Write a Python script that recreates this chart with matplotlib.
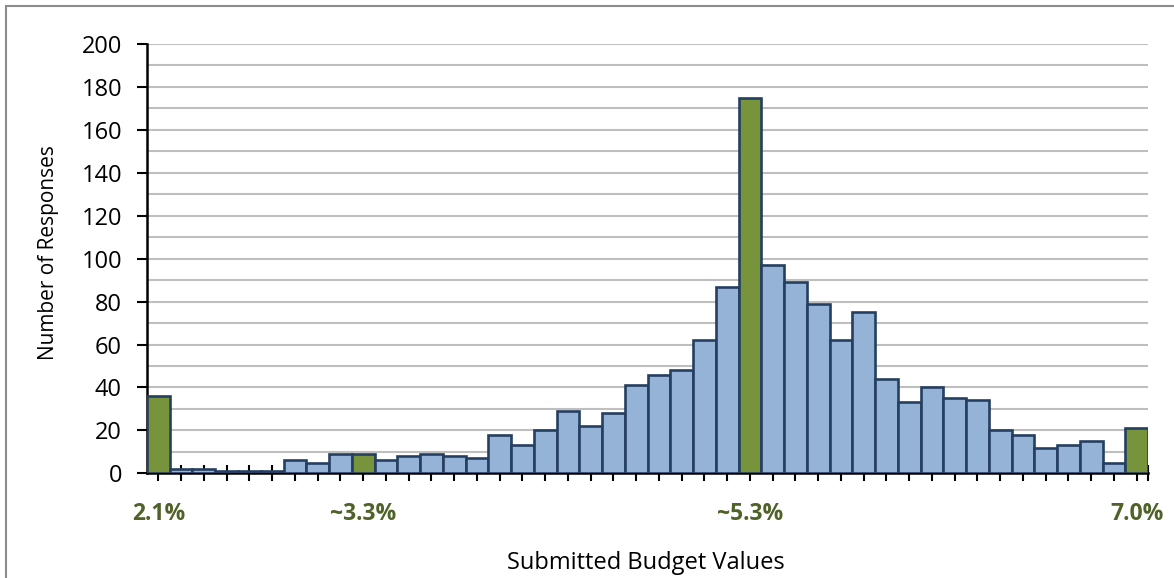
import matplotlib
matplotlib.use('Agg')
import matplotlib.pyplot as plt
import numpy as np
from matplotlib.patches import Rectangle

# responses per budget bin
counts = [36, 2, 2, 1, 1, 1, 6, 5, 9, 9, 6, 8, 9, 8, 7, 18, 13, 20, 29, 22,
          28, 41, 46, 48, 62, 87, 175, 97, 89, 79, 62, 75, 44, 33, 40, 35, 34,
          20, 18, 12, 13, 15, 5, 21]
highlight_idx = [0, 9, 26, 43]
highlight_labels = ['2.1%', '~3.3%', '~5.3%', '7.0%']

blue = '#95B3D7'
green = '#77933C'
edge = '#243F60'
label_green = '#4F6228'

plt.rcParams['font.family'] = ['Open Sans', 'DejaVu Sans']

fig = plt.figure(figsize=(11.74, 5.78), dpi=100)
ax = fig.add_axes([147 / 1174, 1 - 473.3 / 578, (1148 - 147) / 1174, (473.3 - 44) / 578])

# outer chart border
fig.patches.append(Rectangle((6 / 1174, -0.05), 1.1, 1 - 6 / 578 + 0.05,
                             transform=fig.transFigure, fill=False,
                             edgecolor='#8C8C8C', linewidth=1.5))

x = np.arange(len(counts))
colors = [green if i in highlight_idx else blue for i in x]
ax.bar(x, counts, width=1.0, color=colors, edgecolor=edge, linewidth=1.9, zorder=3)

ax.set_xlim(-0.5, len(counts) - 0.5)
ax.set_ylim(0, 200)
ax.set_yticks(np.arange(0, 201, 20))
ax.set_yticks(np.arange(10, 200, 20), minor=True)
ax.grid(axis='y', which='both', color='#BFBFBF', linewidth=1.5, zorder=0)
ax.tick_params(axis='y', which='major', length=7, width=1.5, labelsize=17, pad=11)
ax.tick_params(axis='y', which='minor', length=0)

# ticks at every bar centre, labels only on the highlighted bins
ticks = list(x) + [len(counts) - 0.5]
ax.set_xticks(ticks)
tick_labels = [''] * len(ticks)
for i, lab in zip(highlight_idx, highlight_labels):
    tick_labels[i] = lab
ax.set_xticklabels(tick_labels, fontsize=16.5, fontweight='bold', color=label_green)
ax.tick_params(axis='x', direction='inout', length=11, width=1.5, pad=15)

for s in ['top', 'right']:
    ax.spines[s].set_visible(False)
ax.spines['left'].set_linewidth(1.8)
ax.spines['bottom'].set_linewidth(1.8)

fig.text(49 / 1174, 1 - 253 / 578, 'Number of Responses', fontsize=15,
         rotation=90, ha='center', va='center')
fig.text(646 / 1174, 1 - 563 / 578, 'Submitted Budget Values', fontsize=17,
         ha='center', va='center')

fig.savefig('out.png', dpi=100)
plt.close(fig)
